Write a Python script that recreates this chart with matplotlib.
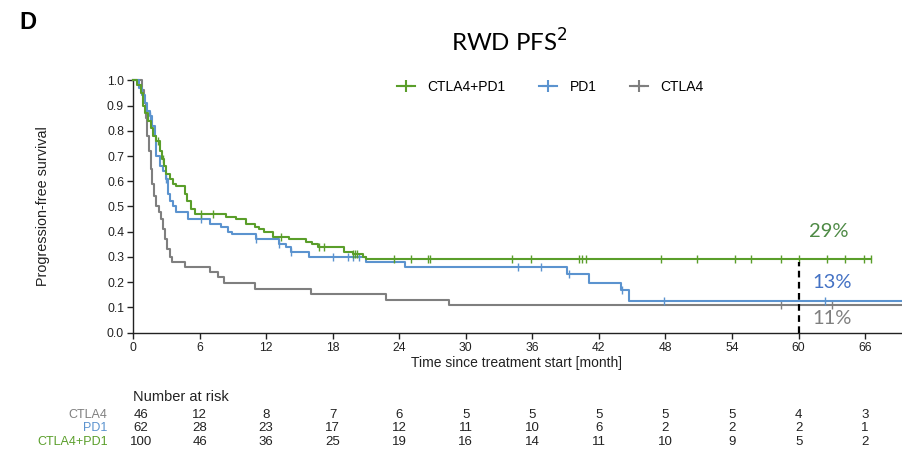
import numpy as np
import matplotlib
matplotlib.use("Agg")
import matplotlib.pyplot as plt
from matplotlib.lines import Line2D

plt.rcParams['font.family'] = ['Liberation Sans', 'DejaVu Sans']

# Kaplan-Meier step data (time in months, survival after the step)
ctla4_t = [0, 0.85, 1.0, 1.15, 1.3, 1.45, 1.6, 1.75, 1.9, 2.1, 2.3, 2.5, 2.7,
           2.9, 3.1, 3.3, 3.5, 4.65, 6.9, 7.65, 8.2, 11.0, 16.0, 22.8, 28.5]
ctla4_s = [1.0, 0.96, 0.91, 0.85, 0.78, 0.72, 0.65, 0.59, 0.54, 0.50, 0.48,
           0.45, 0.41, 0.37, 0.33, 0.30, 0.28, 0.26, 0.24, 0.22, 0.196, 0.174,
           0.152, 0.13, 0.11]
ctla4_cens = [58.4, 63.0]

pd1_t = [0, 0.5, 0.8, 1.05, 1.3, 1.5, 1.75, 1.95, 2.1, 2.4, 2.7, 3.0, 3.15,
         3.3, 3.6, 3.9, 4.95, 6.9, 7.95, 8.55, 8.9, 11.1, 13.2, 13.8, 14.2,
         15.9, 21.0, 24.5, 39.1, 41.1, 44.0, 44.7]
pd1_s = [1.0, 0.97, 0.94, 0.91, 0.88, 0.86, 0.82, 0.78, 0.70, 0.66, 0.64,
         0.61, 0.55, 0.52, 0.50, 0.48, 0.45, 0.43, 0.42, 0.40, 0.39, 0.37,
         0.35, 0.34, 0.32, 0.30, 0.28, 0.258, 0.233, 0.198, 0.167, 0.126]
pd1_cens = [1.5, 3.0, 6.15, 11.1, 13.2, 14.25, 18.0, 19.35, 19.8, 20.4, 34.7,
            36.8, 39.3, 44.05, 47.9, 62.4]

combo_t = [0, 0.4, 0.7, 0.9, 1.1, 1.35, 1.6, 1.8, 2.1, 2.4, 2.6, 2.75, 3.0,
           3.3, 3.6, 3.9, 4.65, 4.9, 5.2, 5.55, 8.4, 9.3, 10.2, 11.0, 11.4,
           11.8, 12.6, 14.1, 15.6, 16.1, 16.65, 19.05, 19.8, 20.7, 21.0]
combo_s = [1.0, 0.98, 0.95, 0.90, 0.87, 0.84, 0.81, 0.78, 0.76, 0.72, 0.69,
           0.66, 0.63, 0.61, 0.59, 0.58, 0.55, 0.52, 0.49, 0.47, 0.46, 0.45,
           0.43, 0.42, 0.41, 0.40, 0.38, 0.37, 0.36, 0.35, 0.34, 0.32, 0.31,
           0.30, 0.29]
combo_cens = [2.25, 2.7, 6.15, 7.2, 13.35, 16.8, 17.25, 19.8, 20.0, 20.2,
              23.55, 25.05, 26.55, 26.8, 34.2, 35.9, 40.2, 40.5, 40.8, 47.6,
              50.8, 54.3, 55.7, 58.4, 60.0, 62.6, 64.2, 65.9, 66.5]

ctla4_end, pd1_end, combo_end = 69.2, 69.2, 66.5

risk_times = [0, 6, 12, 18, 24, 30, 36, 42, 48, 54, 60, 66]
risk_ctla4 = [46, 12, 8, 7, 6, 5, 5, 5, 5, 5, 4, 3]
risk_pd1 = [62, 28, 23, 17, 12, 11, 10, 6, 2, 2, 2, 1]
risk_combo = [100, 46, 36, 25, 19, 16, 14, 11, 10, 9, 5, 2]

GREEN = '#5a9e2a'
BLUE = '#5b93cf'
GRAY = '#7f7f7f'
INK = '#222222'


def km_value(times, surv, t):
    idx = np.searchsorted(times, t, side='right') - 1
    return np.asarray(surv)[idx]


fig = plt.figure(figsize=(9.02, 4.54), dpi=100)
ax = fig.add_axes([0.1475, 0.2675, 0.851, 0.5555])

groups = [
    (ctla4_t, ctla4_s, ctla4_cens, ctla4_end, GRAY),
    (pd1_t, pd1_s, pd1_cens, pd1_end, BLUE),
    (combo_t, combo_s, combo_cens, combo_end, GREEN),
]
for times, surv, cens, end, col in groups:
    tt = list(times) + [end]
    ss = list(surv) + [surv[-1]]
    ax.step(tt, ss, where='post', color=col, lw=1.5, clip_on=False, zorder=3)
    ax.plot(cens, km_value(times, surv, cens), ls='none', marker='|',
            ms=6, mew=1.0, color=col, zorder=3, clip_on=False)

# 5-year marker
ax.plot([60, 60], [0, 0.28], ls=(0, (3, 2)), color='black', lw=1.6, zorder=4)

ax.text(62.7, 0.40, '29%', color='#4e8a45', fontsize=14.5, family='Lato',
        ha='center', va='center')
ax.text(63.0, 0.197, '13%', color='#4472c4', fontsize=14.5, family='Lato',
        ha='center', va='center')
ax.text(63.0, 0.057, '11%', color='#7f7f7f', fontsize=14.5, family='Lato',
        ha='center', va='center')

ax.set_xlim(0, 69.2)
ax.set_ylim(0, 1.0)
ax.set_xticks(risk_times)
ax.set_yticks(np.arange(0, 1.01, 0.1))
ax.set_yticklabels([f'{v:.1f}' for v in np.arange(0, 1.01, 0.1)])
ax.spines['top'].set_visible(False)
ax.spines['right'].set_visible(False)
for sp in ['left', 'bottom']:
    ax.spines[sp].set_linewidth(1.0)
    ax.spines[sp].set_color(INK)
ax.tick_params(direction='out', length=4, width=1.0, labelsize=8.7,
               colors=INK, pad=2.5)
ax.set_xlabel('Time since treatment start [month]', fontsize=10,
              color=INK, labelpad=2)
ax.set_ylabel('Progression-free survival', fontsize=10.4, color=INK)
ax.yaxis.set_label_coords(-0.108, 0.5)

handles = [Line2D([], [], color=c, lw=1.5, marker='+', ms=8, mew=1.5)
           for c in (GREEN, BLUE, GRAY)]
fig.legend(handles, ['CTLA4+PD1', 'PD1', 'CTLA4'], loc='center',
           bbox_to_anchor=(0.61, 0.808), ncol=3, frameon=False, fontsize=10,
           handlelength=1.3, columnspacing=2.4, handletextpad=0.9)

# number at risk table
ax.text(0, -0.255, 'Number at risk', transform=ax.get_xaxis_transform(),
        fontsize=10.5, ha='left', va='center', color=INK)
rows = [('CTLA4', risk_ctla4, GRAY, -0.326),
        ('PD1', risk_pd1, BLUE, -0.378),
        ('CTLA4+PD1', risk_combo, GREEN, -0.432)]
for name, counts, col, yy in rows:
    ax.text(-2.3, yy, name, transform=ax.get_xaxis_transform(), fontsize=9,
            ha='right', va='center', color=col, clip_on=False)
    for t, n in zip(risk_times, counts):
        xx = 0.7 if t == 0 else t
        ax.text(xx, yy, str(n), transform=ax.get_xaxis_transform(),
                fontsize=9.5, ha='center', va='center', color=INK,
                clip_on=False)

fig.text(0.022, 0.950, 'D', fontsize=17, fontweight='bold', ha='left',
         va='center')
fig.text(0.565, 0.8855, 'RWD PFS$^2$', fontsize=17.3, family='Lato',
         ha='center', va='baseline')

fig.savefig('out.png', dpi=100)
